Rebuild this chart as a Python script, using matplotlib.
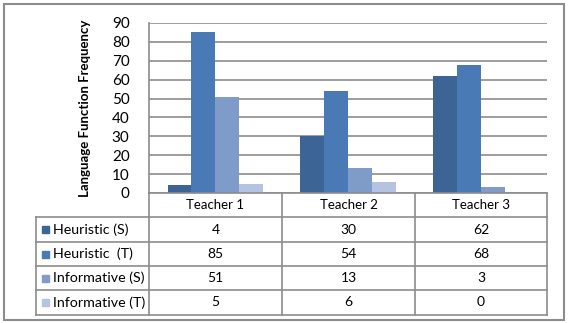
import numpy as np
import matplotlib.pyplot as plt
from matplotlib.lines import Line2D
from matplotlib.patches import Rectangle

categories = ['Teacher 1', 'Teacher 2', 'Teacher 3']
series_names = ['Heuristic (S)', 'Heuristic  (T)', 'Informative (S)', 'Informative (T)']
heuristic_s = [4, 30, 62]
heuristic_t = [85, 54, 68]
informative_s = [51, 13, 3]
informative_t = [5, 6, 0]
series = [heuristic_s, heuristic_t, informative_s, informative_t]
colors = ['#3C6494', '#4A7AB6', '#7F9CC9', '#B3C3E1']
yticks = list(range(0, 100, 10))

plt.rcParams['font.family'] = ['Lato', 'DejaVu Sans']

W, H = 569, 323
fig = plt.figure(figsize=(W / 100, H / 100), dpi=100)

# pixel layout (from top-left)
x0, x1 = 149, 547
y_top, y_bot = 23, 193
ax = fig.add_axes([x0 / W, 1 - y_bot / H, (x1 - x0) / W, (y_bot - y_top) / H])

n = len(series)
bw = 0.18
x = np.arange(len(categories))
for i, (vals, c) in enumerate(zip(series, colors)):
    ax.bar(x + (i - (n - 1) / 2) * bw, vals, bw, color=c, zorder=3)

ax.set_xlim(-0.5, len(categories) - 0.5)
ax.set_ylim(0, 90)
ax.set_yticks(yticks)
ax.set_yticklabels([str(t) for t in yticks], fontsize=11)
ax.set_xticks([])
ax.grid(axis='y', color='#8c8c8c', linewidth=1.2, zorder=0)
for s in ['top', 'right', 'bottom']:
    ax.spines[s].set_visible(False)
ax.spines['left'].set_color('#8c8c8c')
ax.spines['left'].set_linewidth(1.2)
ax.tick_params(axis='y', length=0, pad=14)
ax.set_ylabel('Language Function Frequency', fontsize=9.5, fontweight='bold', labelpad=15)

# helpers in pixel coords
def px(xp):
    return xp / W

def py(yp):
    return 1 - yp / H

def hline(xa, xb, yp):
    fig.add_artist(Line2D([px(xa), px(xb)], [py(yp), py(yp)], color='#8c8c8c', lw=1.2))

def vline(xp, ya, yb):
    fig.add_artist(Line2D([px(xp), px(xp)], [py(ya), py(yb)], color='#8c8c8c', lw=1.2))

# data table
col_x = [149, 282, 415, 547]
row_y = [193, 217, 242, 266, 290, 315]
lab_x = 36
hline(x0, x1, row_y[0])
for yy in row_y[1:]:
    hline(lab_x, x1, yy)
for xx in col_x:
    vline(xx, row_y[0], row_y[-1])
vline(lab_x, row_y[1], row_y[-1])

for j, cat in enumerate(categories):
    cx = (col_x[j] + col_x[j + 1]) / 2
    fig.text(px(cx), py((row_y[0] + row_y[1]) / 2), cat, ha='center', va='center', fontsize=9.5)
    for i, vals in enumerate(series):
        fig.text(px(cx), py((row_y[i + 1] + row_y[i + 2]) / 2), str(vals[j]),
                 ha='center', va='center', fontsize=10)

for i, name in enumerate(series_names):
    cy = (row_y[i + 1] + row_y[i + 2]) / 2
    fig.add_artist(Rectangle((px(42), py(cy + 3.5)), 7 / W, 7 / H, color=colors[i]))
    fig.text(px(53), py(cy), name, ha='left', va='center', fontsize=10.3)

# outer frame
fig.add_artist(Rectangle((px(4), py(320)), 560 / W, 316 / H, fill=False,
                         edgecolor='#8c8c8c', lw=1.5))

fig.savefig('out.png', dpi=100)
